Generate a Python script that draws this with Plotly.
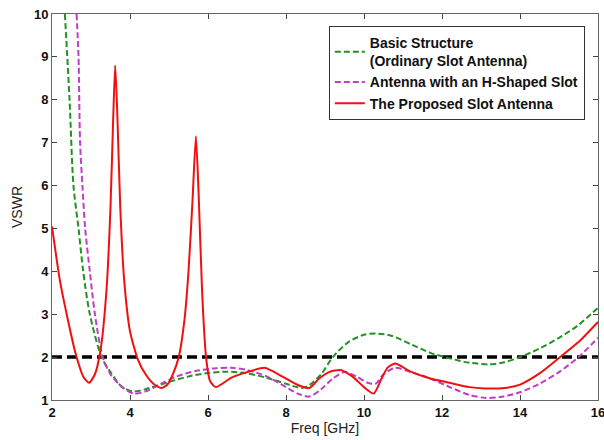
import plotly.graph_objects as go

red_x = [2.0, 2.2, 2.4, 2.6, 2.8, 2.95, 3.1, 3.25, 3.4, 3.5, 3.57, 3.62, 3.67, 3.75, 3.85, 4.0, 4.2, 4.4, 4.6, 4.8, 4.95, 5.1, 5.25, 5.4, 5.5, 5.6, 5.69, 5.76, 5.85, 5.95, 6.05, 6.2, 6.6, 7.0, 7.45, 7.9, 8.3, 8.6, 8.85, 9.1, 9.4, 9.7, 10.0, 10.25, 10.45, 10.6, 10.8, 11.2, 11.7, 12.2, 12.7, 13.1, 13.6, 14.0, 14.5, 15.0, 15.5, 16.0]
red_y = [5.05, 3.8, 2.9, 2.1, 1.55, 1.4, 1.6, 2.2, 3.6, 5.5, 7.6, 8.8, 7.8, 5.5, 3.8, 2.6, 1.95, 1.6, 1.38, 1.28, 1.35, 1.6, 2.0, 2.9, 4.0, 5.6, 7.15, 5.8, 3.5, 2.0, 1.45, 1.3, 1.52, 1.65, 1.75, 1.55, 1.35, 1.28, 1.5, 1.65, 1.7, 1.55, 1.3, 1.15, 1.5, 1.75, 1.85, 1.66, 1.5, 1.4, 1.3, 1.27, 1.28, 1.36, 1.62, 1.98, 2.35, 2.82]

green_x = [2.33, 2.45, 2.55, 2.68, 2.8, 2.97, 3.27, 3.5, 3.8, 4.1, 4.5, 5.0, 5.5, 6.0, 6.5, 7.0, 7.5, 8.0, 8.4, 8.6, 8.9, 9.2, 9.6, 10.0, 10.3, 10.7, 11.2, 11.7, 12.2, 12.7, 13.2, 13.6, 14.0, 14.5, 15.0, 15.5, 16.0]
green_y = [10.0, 8.0, 6.0, 5.0, 4.0, 3.0, 2.0, 1.65, 1.3, 1.2, 1.28, 1.42, 1.55, 1.63, 1.66, 1.62, 1.52, 1.38, 1.28, 1.35, 1.6, 2.0, 2.35, 2.52, 2.55, 2.5, 2.3, 2.1, 1.97, 1.87, 1.83, 1.88, 2.0, 2.2, 2.45, 2.75, 3.15]

mag_x = [2.63, 2.68, 2.72, 2.78, 2.85, 2.97, 3.1, 3.3, 3.5, 3.8, 4.1, 4.4, 4.8, 5.2, 5.7, 6.2, 6.6, 7.0, 7.5, 8.0, 8.3, 8.6, 8.9, 9.2, 9.5, 9.8, 10.1, 10.3, 10.5, 10.8, 11.2, 11.7, 12.2, 12.7, 13.1, 13.5, 14.0, 14.5, 15.0, 15.5, 16.0]
mag_y = [10.0, 9.0, 7.0, 6.0, 5.0, 4.0, 3.0, 2.0, 1.6, 1.3, 1.15, 1.2, 1.38, 1.55, 1.68, 1.74, 1.75, 1.7, 1.55, 1.3, 1.15, 1.08, 1.25, 1.5, 1.65, 1.55, 1.4, 1.38, 1.6, 1.75, 1.65, 1.5, 1.3, 1.12, 1.05, 1.07, 1.18, 1.38, 1.65, 2.0, 2.45]

ref_x = [2, 16]
ref_y = [2, 2]

x_ticks = [2, 4, 6, 8, 10, 12, 14, 16]
y_ticks = [1, 2, 3, 4, 5, 6, 7, 8, 9, 10]

font = "Liberation Sans, Arial, sans-serif"

fig = go.Figure()
fig.add_trace(go.Scatter(x=ref_x, y=ref_y, mode="lines", showlegend=False,
                         line=dict(color="black", width=3.5, dash="10px,5px")))
fig.add_trace(go.Scatter(x=green_x, y=green_y, mode="lines",
                         name="<b>Basic Structure<br>(Ordinary Slot Antenna)</b>",
                         line=dict(color="#229322", width=2, dash="6px,3px", shape="spline", smoothing=0.8)))
fig.add_trace(go.Scatter(x=mag_x, y=mag_y, mode="lines",
                         name="<b>Antenna with an H-Shaped Slot</b>",
                         line=dict(color="#c23cc8", width=2, dash="6px,3px", shape="spline", smoothing=0.8)))
fig.add_trace(go.Scatter(x=red_x, y=red_y, mode="lines",
                         name="<b>The Proposed Slot Antenna</b>",
                         line=dict(color="#f01010", width=2, shape="spline", smoothing=0.6)))

fig.update_layout(
    width=604, height=440,
    margin=dict(l=52, r=6, t=14, b=40, autoexpand=False),
    paper_bgcolor="white", plot_bgcolor="white",
    font=dict(family=font, size=12, color="#222"),
    legend=dict(x=0.507, y=0.969, xanchor="left", yanchor="top",
                bordercolor="#333", borderwidth=1, bgcolor="white",
                font=dict(size=14, family=font, color="#111"),
                itemwidth=30, tracegroupgap=0),
)
fig.update_xaxes(range=[2, 16], tickvals=x_ticks, ticks="inside", ticklen=5,
                 showline=True, linecolor="#666", linewidth=1, mirror="ticks",
                 showgrid=False, zeroline=False, automargin=False,
                 ticklabeloverflow="allow",
                 tickfont=dict(size=13, family=font, color="#111", weight="bold"),
                 title=dict(text="Freq [GHz]", font=dict(size=14, family=font), standoff=0))
fig.update_yaxes(range=[1, 10], tickvals=y_ticks, ticks="inside", ticklen=5,
                 showline=True, linecolor="#666", linewidth=1, mirror="ticks",
                 showgrid=False, zeroline=False, automargin=False,
                 ticklabeloverflow="allow",
                 tickfont=dict(size=13, family=font, color="#111", weight="bold"),
                 title=dict(text="VSWR", font=dict(size=14, family=font), standoff=8))

fig.write_html("out.html", config={"displayModeBar": False},
               post_script="document.body.style.margin='0';document.body.style.overflow='hidden';")
